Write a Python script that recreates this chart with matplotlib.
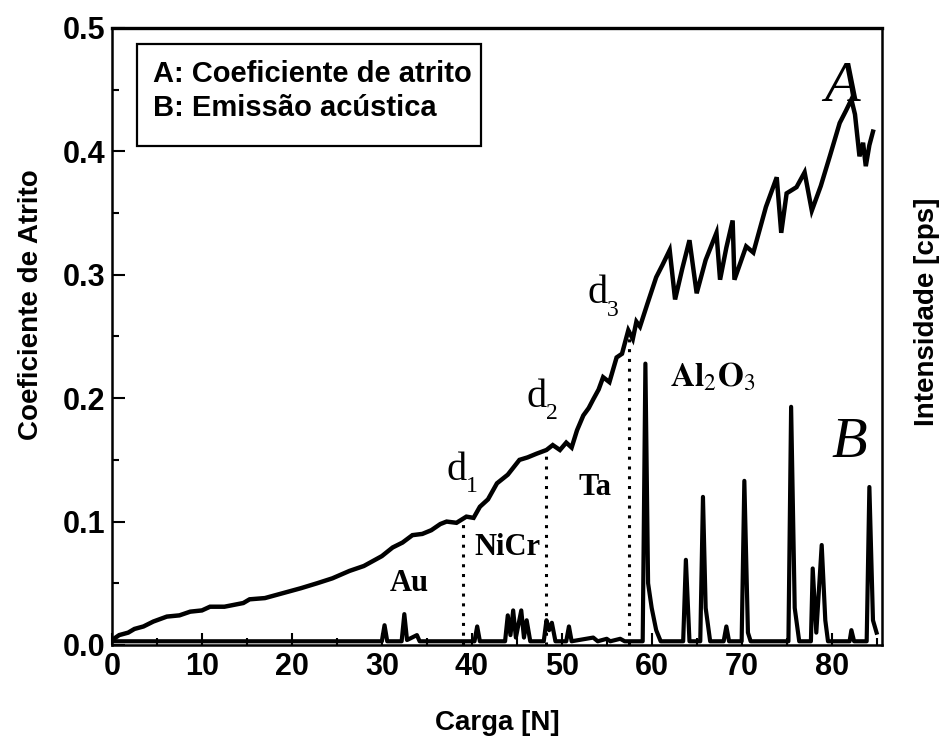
import matplotlib
matplotlib.use("Agg")
import matplotlib.pyplot as plt
from matplotlib.patches import Rectangle
from matplotlib.transforms import offset_copy

# curve A: friction coefficient vs load
carga_a = [0, 0.8, 1.8, 2.5, 3.5, 4.6, 6.1, 7.5, 8.7, 10.0, 10.9, 12.5, 14.6, 15.3,
           17.0, 19.0, 21.0, 22.8, 24.5, 26.4, 28.0, 30.0, 31.2, 32.3, 33.4, 34.5,
           35.5, 36.5, 37.2, 38.3, 39.4, 40.2, 40.9, 41.8, 42.8, 44.0, 45.3, 46.2,
           47.2, 48.3, 49.0, 49.8, 50.5, 51.1, 51.7, 52.4, 53.0, 53.5, 54.1, 54.6,
           55.3, 56.1, 56.7, 57.4, 57.9, 58.3, 58.7, 59.5, 60.5, 61.2, 62.0, 62.6,
           63.4, 64.2, 65.0, 66.0, 67.2, 67.6, 68.3, 69.0, 69.2, 70.5, 71.3, 72.7,
           73.9, 74.4, 75.0, 76.1, 77.0, 77.8, 78.8, 79.8, 80.9, 81.6, 82.2, 82.6,
           83.1, 83.5, 83.8, 84.2, 84.6]
atrito = [0.004, 0.008, 0.010, 0.013, 0.015, 0.019, 0.023, 0.024, 0.027, 0.028, 0.031,
          0.031, 0.034, 0.037, 0.038, 0.042, 0.046, 0.050, 0.054, 0.060, 0.064, 0.072,
          0.079, 0.083, 0.089, 0.090, 0.093, 0.098, 0.100, 0.099, 0.104, 0.103, 0.112,
          0.118, 0.131, 0.138, 0.150, 0.152, 0.155, 0.158, 0.162, 0.158, 0.164, 0.160,
          0.174, 0.186, 0.192, 0.199, 0.207, 0.217, 0.213, 0.233, 0.236, 0.255, 0.248,
          0.262, 0.258, 0.276, 0.298, 0.308, 0.320, 0.280, 0.305, 0.328, 0.285, 0.312,
          0.334, 0.296, 0.322, 0.344, 0.296, 0.323, 0.318, 0.355, 0.379, 0.334, 0.366,
          0.371, 0.383, 0.352, 0.372, 0.396, 0.423, 0.433, 0.442, 0.430, 0.396, 0.407,
          0.388, 0.405, 0.416]

# curve B: acoustic emission (intensity)
carga_b = [0, 30.0, 30.3, 30.6, 32.2, 32.5, 32.8, 33.9, 34.2, 40.3, 40.6, 40.9,
           43.7, 44.0, 44.3, 44.6, 44.9, 45.5, 45.8, 46.1, 46.5, 48.0, 48.3, 48.6,
           48.9, 49.3, 50.5, 50.8, 51.1, 53.5, 54.0, 55.0, 55.4, 56.5, 57.0,
           59.0, 59.3, 59.6, 60.0, 60.5, 61.0, 63.5, 63.8, 64.2, 65.4, 65.7, 66.0,
           66.5, 68.0, 68.3, 68.6, 70.0, 70.3, 70.7, 71.0, 75.2, 75.5, 75.9, 76.4,
           77.7, 77.9, 78.3, 78.9, 79.3, 79.6, 82.0, 82.2, 82.5, 83.9, 84.2, 84.6, 85.0]
intensidade = [0.003, 0.003, 0.016, 0.003, 0.003, 0.025, 0.004, 0.008, 0.003, 0.003,
               0.015, 0.003, 0.003, 0.024, 0.008, 0.028, 0.006, 0.028, 0.006, 0.020,
               0.003, 0.003, 0.020, 0.012, 0.018, 0.003, 0.003, 0.015, 0.003, 0.006,
               0.003, 0.005, 0.003, 0.005, 0.003, 0.003, 0.228, 0.050, 0.030, 0.012,
               0.003, 0.003, 0.069, 0.003, 0.003, 0.120, 0.030, 0.003, 0.003, 0.015,
               0.003, 0.003, 0.133, 0.010, 0.003, 0.003, 0.193, 0.030, 0.003, 0.003,
               0.062, 0.010, 0.081, 0.020, 0.003, 0.003, 0.012, 0.003, 0.003, 0.128,
               0.020, 0.010]

# failure points d1..d3 (load, friction)
d_carga = [39.0, 48.3, 57.5]
d_atrito = [0.104, 0.158, 0.255]
d_texto = ["1", "2", "3"]
d_pos = [(37.2, 0.134), (46.1, 0.193), (52.9, 0.277)]

camadas = ["Au", "NiCr", "Ta"]
camadas_pos = [(33.1, 0.050), (44.0, 0.079), (53.7, 0.128)]

plt.rcParams["font.family"] = ["Liberation Sans", "DejaVu Sans"]
plt.rcParams["mathtext.fontset"] = "stix"

fig = plt.figure(figsize=(9.45, 7.44), dpi=100)
ax = fig.add_axes([0.1185, 0.1331, 0.8148, 0.8293])

ax.plot(carga_a, atrito, color="black", lw=3.2, solid_joinstyle="miter")
ax.plot(carga_b, intensidade, color="black", lw=3.0)

for xd, yd in zip(d_carga, d_atrito):
    ax.plot([xd, xd], [0, yd], color="black", lw=2.2, linestyle=(0, (1, 2.2)))

serif = ["Liberation Serif", "DejaVu Serif"]
for (xt, yt), sub in zip(d_pos, d_texto):
    ax.text(xt, yt, "d", family=serif, fontsize=29, ha="left", va="baseline")
    tr = offset_copy(ax.transData, fig=fig, x=14, y=-9, units="points")
    ax.text(xt, yt, sub, family=serif, fontsize=17, ha="left", va="baseline", transform=tr)

for nome, (xt, yt) in zip(camadas, camadas_pos):
    ax.text(xt, yt, nome, family=serif, fontsize=22, fontweight="bold", ha="center", va="center")
ax.text(66.8, 0.217, r"$\mathbf{Al}_{2}\mathbf{O}_{3}$", fontsize=24, ha="center", va="center")

ax.text(81.2, 0.452, "A", family=serif, style="italic", fontsize=42, ha="center", va="center")
ax.text(82.0, 0.164, "B", family=serif, style="italic", fontsize=42, ha="center", va="center")

# legend box
ax.add_patch(Rectangle((0.032, 0.809), 0.447, 0.165, transform=ax.transAxes,
                       fill=False, lw=1.6, color="black", zorder=5))
ax.text(0.053, 0.925, "A: Coeficiente de atrito", transform=ax.transAxes,
        fontsize=21, fontweight="bold", va="center")
ax.text(0.053, 0.870, "B: Emissão acústica", transform=ax.transAxes,
        fontsize=21, fontweight="bold", va="center")

ax.set_xlim(0, 85.6)
ax.set_ylim(0, 0.5)
ax.set_xticks(range(0, 90, 10))
ax.set_xticks(range(5, 90, 10), minor=True)
ax.set_yticks([0.0, 0.1, 0.2, 0.3, 0.4, 0.5])
ax.set_yticks([0.05, 0.15, 0.25, 0.35, 0.45], minor=True)
ax.set_yticklabels(["0.0", "0.1", "0.2", "0.3", "0.4", "0.5"])
ax.tick_params(which="major", direction="in", length=9, width=1.5,
               labelsize=22, pad=5, right=False, top=False)
ax.tick_params(which="minor", direction="in", length=5, width=1.5, right=False, top=False)
for lbl in ax.get_xticklabels() + ax.get_yticklabels():
    lbl.set_fontweight("bold")
for s in ax.spines.values():
    s.set_linewidth(1.8)
ax.spines["top"].set_linewidth(2.4)

ax.set_xlabel("Carga [N]", fontsize=20, fontweight="bold", labelpad=20)
fig.text(31 / 945, 1 - 305 / 744, "Coeficiente de Atrito", rotation=90,
         fontsize=20, fontweight="bold", ha="center", va="center")
fig.text(927 / 945, 1 - 312 / 744, "Intensidade [cps]", rotation=90,
         fontsize=20, fontweight="bold", ha="center", va="center")

fig.savefig("out.png", dpi=100)
